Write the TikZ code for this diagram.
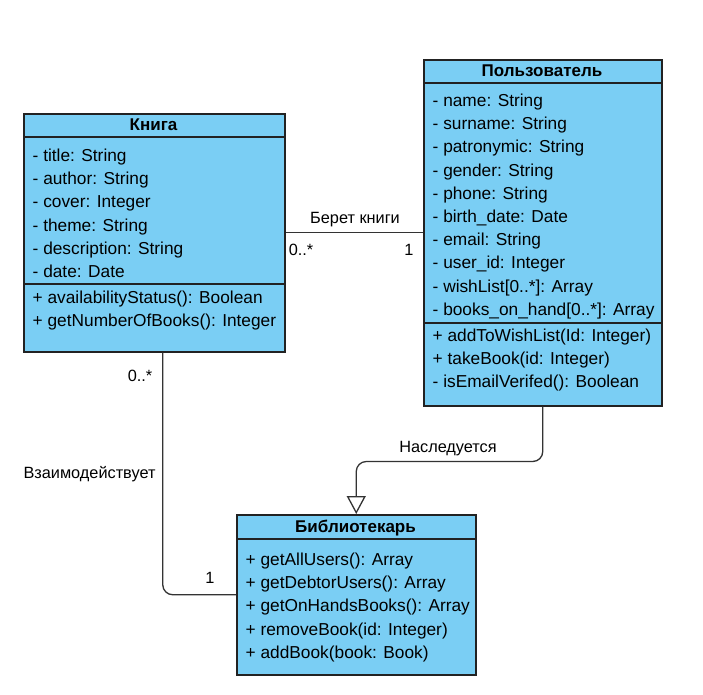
\documentclass[tikz,border=0pt]{standalone}
\usepackage{fontspec}
\setmainfont{Liberation Sans}
\usetikzlibrary{arrows.meta}
\definecolor{classfill}{RGB}{122,206,244}
\definecolor{classline}{RGB}{34,34,34}
\definecolor{linkline}{RGB}{51,51,51}
\tikzset{
	classbox/.style={draw=classline, fill=classfill, line width=1.5pt, inner sep=0pt, anchor=north west},
	divider/.style={draw=classline, line width=1.5pt},
	member/.style={anchor=base west, inner sep=0pt, font=\fontsize{17.3}{20}\selectfont},
	classtitle/.style={anchor=base, inner sep=0pt, font=\fontsize{17}{20}\selectfont\bfseries},
	link/.style={draw=linkline, line width=1.3pt, rounded corners=10pt},
	linklabel/.style={anchor=base, inner sep=0pt, font=\fontsize{16.3}{19}\selectfont}
}

\begin{document}
\begin{tikzpicture}[x=1pt, y=-1pt]
			%%%%% START %%%%%
			\useasboundingbox (0,0) rectangle (703,694);
			
			% Книга
			\node[classbox, minimum width=261pt, minimum height=238pt] (kniga) at (23,113) {};
			\draw[divider] (23,137) -- (284,137);
			\draw[divider] (23,284) -- (284,284);
			\node[classtitle] (knigatitle) at (153.5,130) {Книга};
			\foreach \t [count=\i from 0] in {- title: String, - author: String, - cover: Integer, - theme: String, - description: String, - date: Date}
				\node[member] (kattr\i) at (32.5,161.5+23.2*\i) {\t};
			\foreach \t [count=\i from 0] in {+ availabilityStatus(): Boolean, + getNumberOfBooks(): Integer}
				\node[member] (kop\i) at (32.5,303.5+23.2*\i) {\t};
			
			% Пользователь
			\node[classbox, minimum width=238pt, minimum height=346pt] (polz) at (423,59) {};
			\draw[divider] (423,83) -- (661,83);
			\draw[divider] (423,323) -- (661,323);
			\node[classtitle] (polztitle) at (542,76) {Пользователь};
			\foreach \t [count=\i from 0] in {- name: String, - surname: String, - patronymic: String, - gender: String, - phone: String, - birth\_date: Date, - email: String, - user\_id: Integer, - wishList[0..*]: Array, - books\_on\_hand[0..*]: Array}
				\node[member] (pattr\i) at (432.5,106.5+23.2*\i) {\t};
			\foreach \t [count=\i from 0] in {+ addToWishList(Id: Integer), + takeBook(id: Integer), - isEmailVerifed(): Boolean}
				\node[member] (pop\i) at (432.5,341.5+23.2*\i) {\t};
			
			% Библиотекарь
			\node[classbox, minimum width=239pt, minimum height=160pt] (bib) at (236,514) {};
			\draw[divider] (236,539) -- (475,539);
			\node[classtitle] (bibtitle) at (355.5,532) {Библиотекарь};
			\foreach \t [count=\i from 0] in {+ getAllUsers(): Array, + getDebtorUsers(): Array, + getOnHandsBooks(): Array, + removeBook(id: Integer), + addBook(book: Book)}
				\node[member] (bop\i) at (245.5,565.5+23.2*\i) {\t};
			
			% links
			\draw[link] (kniga.east) -- (polz.west);
			\draw[link] ([xshift=8.5pt]kniga.south) |- (bib.west);
			\draw[link, -{Triangle[open, length=18pt, width=19pt]}] (polz.south) -- ++(0,55) -| (bib.north);
			
			\node[linklabel] (takes) at (355,223) {Берет книги};
			\node[linklabel] (takesmany) at (301,255) {0..*};
			\node[linklabel] (takesone) at (409,255) {1};
			\node[linklabel] (inherits) at (448,452) {Наследуется};
			\node[linklabel] (interacts) at (89.5,478) {Взаимодействует};
			\node[linklabel] (interactmany) at (140,381) {0..*};
			\node[linklabel] (interactone) at (210,583) {1};
			
			%%%%% END %%%%%
\end{tikzpicture}
\end{document}
